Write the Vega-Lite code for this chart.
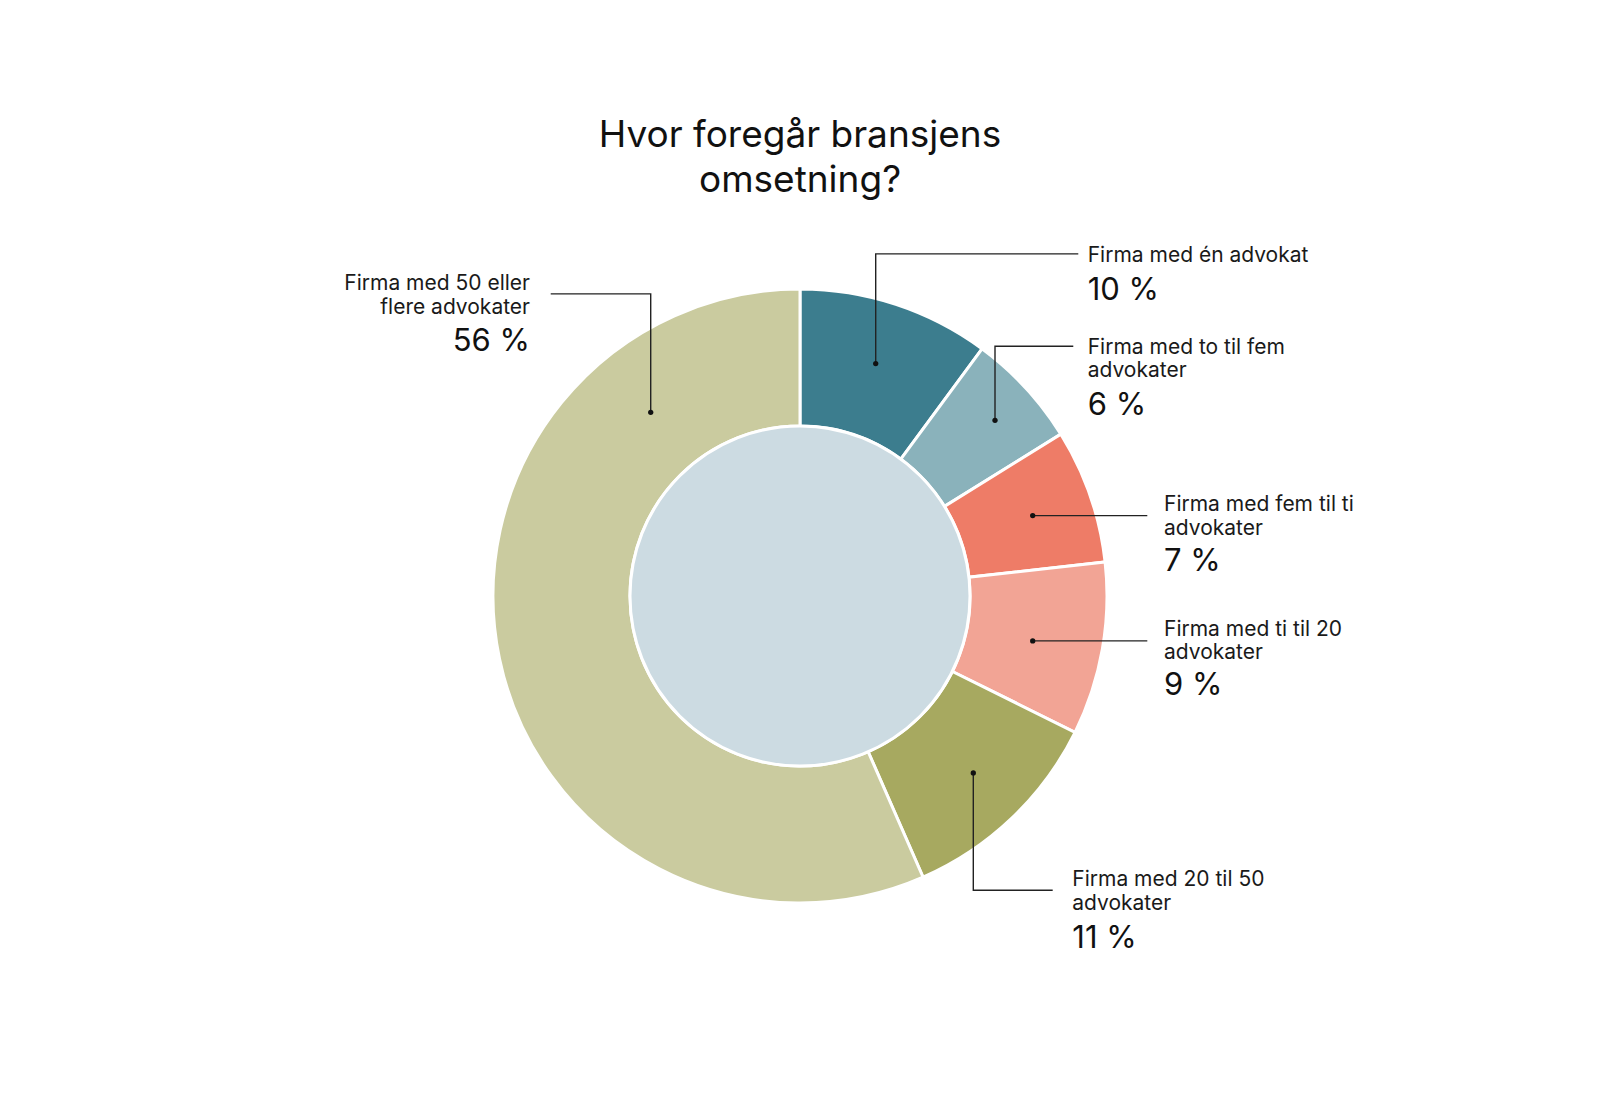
{
  "$schema": "https://vega.github.io/schema/vega-lite/v6.json",
  "width": 1600,
  "height": 1000,
  "autosize": {"type": "none"},
  "padding": {"top": 96, "left": 0, "right": 0, "bottom": 0},
  "background": "white",
  "config": {"view": {"stroke": null}},
  "title": {
    "text": ["Hvor foregår bransjens", "omsetning?"],
    "font": "Inter",
    "fontSize": 37,
    "fontWeight": "normal",
    "color": "#111111",
    "anchor": "middle",
    "frame": "group",
    "lineHeight": 45,
    "offset": -104
  },
  "datasets": {
    "slices": [
      {"idx": 1, "label": "Firma med én advokat", "share": 10},
      {"idx": 2, "label": "Firma med to til fem advokater", "share": 6},
      {"idx": 3, "label": "Firma med fem til ti advokater", "share": 7},
      {"idx": 4, "label": "Firma med ti til 20 advokater", "share": 9},
      {"idx": 5, "label": "Firma med 20 til 50 advokater", "share": 11},
      {"idx": 6, "label": "Firma med 50 eller flere advokater", "share": 56}
    ],
    "disk": [{"part": "centre"}],
    "leaders": [
      {"idx": 1, "seq": 0, "x": 24.66, "y": 75.70},
      {"idx": 1, "seq": 1, "x": 24.66, "y": 111.43},
      {"idx": 1, "seq": 2, "x": 90.65, "y": 111.43},
      {"idx": 2, "seq": 0, "x": 63.52, "y": 57.23},
      {"idx": 2, "seq": 1, "x": 63.52, "y": 81.34},
      {"idx": 2, "seq": 2, "x": 89.02, "y": 81.34},
      {"idx": 3, "seq": 0, "x": 75.80, "y": 26.19},
      {"idx": 3, "seq": 1, "x": 113.13, "y": 26.19},
      {"idx": 4, "seq": 0, "x": 75.80, "y": -14.63},
      {"idx": 4, "seq": 1, "x": 113.13, "y": -14.63},
      {"idx": 5, "seq": 0, "x": 56.45, "y": -57.62},
      {"idx": 5, "seq": 1, "x": 56.45, "y": -95.86},
      {"idx": 5, "seq": 2, "x": 82.31, "y": -95.86},
      {"idx": 6, "seq": 0, "x": -48.63, "y": 59.84},
      {"idx": 6, "seq": 1, "x": -48.63, "y": 98.40},
      {"idx": 6, "seq": 2, "x": -81.20, "y": 98.40}
    ],
    "labels": [
      {"idx": 1, "side": "right", "lines": "Firma med én advokat", "pct": "10 %", "tx": 93.71, "ty": 108.83, "py": 96.55},
      {"idx": 2, "side": "right", "lines": "Firma med to til fem\nadvokater", "pct": "6 %", "tx": 93.71, "ty": 78.96, "py": 59.09},
      {"idx": 3, "side": "right", "lines": "Firma med fem til ti\nadvokater", "pct": "7 %", "tx": 118.57, "ty": 27.59, "py": 8.05},
      {"idx": 4, "side": "right", "lines": "Firma med ti til 20\nadvokater", "pct": "9 %", "tx": 118.57, "ty": -12.90, "py": -32.12},
      {"idx": 5, "side": "right", "lines": "Firma med 20 til 50\nadvokater", "pct": "11 %", "tx": 88.70, "ty": -94.56, "py": -114.62},
      {"idx": 6, "side": "left", "lines": "Firma med 50 eller\nflere advokater", "pct": "56 %", "tx": -87.95, "ty": 99.58, "py": 79.71}
    ]
  },
  "layer": [
    {
      "data": {"name": "slices"},
      "mark": {"type": "arc", "innerRadius": 170, "outerRadius": 307, "stroke": "white", "strokeWidth": 3},
      "encoding": {
        "theta": {"field": "share", "type": "quantitative", "stack": true},
        "order": {"field": "idx", "type": "quantitative"},
        "color": {
          "field": "label",
          "type": "nominal",
          "legend": null,
          "scale": {
            "domain": ["Firma med én advokat", "Firma med to til fem advokater", "Firma med fem til ti advokater", "Firma med ti til 20 advokater", "Firma med 20 til 50 advokater", "Firma med 50 eller flere advokater"],
            "range": ["#3c7d8e", "#8ab2bb", "#ee7c67", "#f2a495", "#a7a960", "#cacb9f"]
          }
        }
      }
    },
    {
      "data": {"name": "disk"},
      "mark": {"type": "arc", "innerRadius": 0, "outerRadius": 170, "theta": 0, "theta2": 6.2832, "fill": "#ccdbe2", "stroke": "white", "strokeWidth": 3},
      "encoding": {}
    },
    {
      "data": {"name": "leaders"},
      "mark": {"type": "line", "color": "#222222", "strokeWidth": 1.4},
      "encoding": {
        "x": {"field": "x", "type": "quantitative", "scale": {"domain": [-260.59, 260.59], "nice": false, "zero": false}, "axis": null},
        "y": {"field": "y", "type": "quantitative", "scale": {"domain": [-162.87, 162.87], "nice": false, "zero": false}, "axis": null},
        "detail": {"field": "idx", "type": "nominal"},
        "order": {"field": "seq", "type": "quantitative"}
      }
    },
    {
      "data": {"name": "leaders"},
      "transform": [{"filter": "datum.seq == 0"}],
      "mark": {"type": "point", "filled": true, "color": "#111111", "size": 28, "opacity": 1},
      "encoding": {
        "x": {"field": "x", "type": "quantitative", "scale": {"domain": [-260.59, 260.59], "nice": false, "zero": false}, "axis": null},
        "y": {"field": "y", "type": "quantitative", "scale": {"domain": [-162.87, 162.87], "nice": false, "zero": false}, "axis": null}
      }
    },
    {
      "data": {"name": "labels"},
      "transform": [{"filter": "datum.side == 'right'"}],
      "mark": {"type": "text", "align": "left", "baseline": "alphabetic", "lineBreak": "\n", "lineHeight": 23.5, "font": "Inter", "fontSize": 21, "color": "#1a1a1a"},
      "encoding": {
        "x": {"field": "tx", "type": "quantitative", "scale": {"domain": [-260.59, 260.59], "nice": false, "zero": false}, "axis": null},
        "y": {"field": "ty", "type": "quantitative", "scale": {"domain": [-162.87, 162.87], "nice": false, "zero": false}, "axis": null},
        "text": {"field": "lines", "type": "nominal"}
      }
    },
    {
      "data": {"name": "labels"},
      "transform": [{"filter": "datum.side == 'left'"}],
      "mark": {"type": "text", "align": "right", "baseline": "alphabetic", "lineBreak": "\n", "lineHeight": 23.5, "font": "Inter", "fontSize": 21, "color": "#1a1a1a"},
      "encoding": {
        "x": {"field": "tx", "type": "quantitative", "scale": {"domain": [-260.59, 260.59], "nice": false, "zero": false}, "axis": null},
        "y": {"field": "ty", "type": "quantitative", "scale": {"domain": [-162.87, 162.87], "nice": false, "zero": false}, "axis": null},
        "text": {"field": "lines", "type": "nominal"}
      }
    },
    {
      "data": {"name": "labels"},
      "transform": [{"filter": "datum.side == 'right'"}],
      "mark": {"type": "text", "align": "left", "baseline": "alphabetic", "font": "Inter", "fontSize": 31, "color": "#111111"},
      "encoding": {
        "x": {"field": "tx", "type": "quantitative", "scale": {"domain": [-260.59, 260.59], "nice": false, "zero": false}, "axis": null},
        "y": {"field": "py", "type": "quantitative", "scale": {"domain": [-162.87, 162.87], "nice": false, "zero": false}, "axis": null},
        "text": {"field": "pct", "type": "nominal"}
      }
    },
    {
      "data": {"name": "labels"},
      "transform": [{"filter": "datum.side == 'left'"}],
      "mark": {"type": "text", "align": "right", "baseline": "alphabetic", "font": "Inter", "fontSize": 31, "color": "#111111"},
      "encoding": {
        "x": {"field": "tx", "type": "quantitative", "scale": {"domain": [-260.59, 260.59], "nice": false, "zero": false}, "axis": null},
        "y": {"field": "py", "type": "quantitative", "scale": {"domain": [-162.87, 162.87], "nice": false, "zero": false}, "axis": null},
        "text": {"field": "pct", "type": "nominal"}
      }
    }
  ]
}
